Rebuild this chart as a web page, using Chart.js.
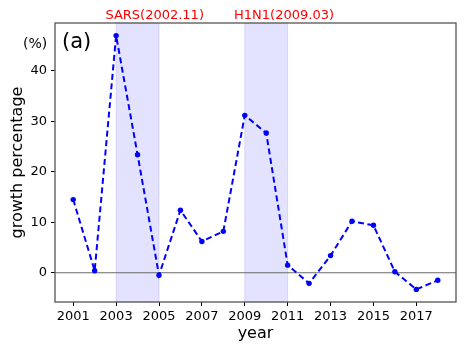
<!DOCTYPE html>
<html>
<head>
<meta charset="utf-8">
<script src="https://cdn.jsdelivr.net/npm/chart.js@4"></script>
<style>
  html, body { margin: 0; padding: 0; background: #fff; }
  #wrap { width: 466px; height: 353px; }
</style>
</head>
<body>
<div id="wrap"><canvas id="growthChart" width="466" height="353"></canvas></div>
<script>
const years = [2001, 2002, 2003, 2004, 2005, 2006, 2007, 2008, 2009, 2010, 2011, 2012, 2013, 2014, 2015, 2016, 2017, 2018];
const growth = [14.5, 0.4, 47.0, 23.4, -0.5, 12.4, 6.2, 8.2, 31.2, 27.7, 1.5, -2.1, 3.4, 10.2, 9.4, 0.2, -3.3, -1.5];
const xTicks = [2001, 2003, 2005, 2007, 2009, 2011, 2013, 2015, 2017];
const yTicks = [0, 10, 20, 30, 40];
const spans = [[2003, 2005], [2009, 2011]];
const spanLabels = ['SARS(2002.11)', 'H1N1(2009.03)'];
const spanLabelX = [2002.5, 2008.5];

const font = 'DejaVu Sans';

// shaded epidemic spans, zero line, frame and text labels
const decorations = {
  id: 'decorations',
  beforeDatasetsDraw(chart) {
    const ctx = chart.ctx;
    const area = chart.chartArea;
    const x = chart.scales.x;
    const y = chart.scales.y;
    ctx.save();
    spans.forEach(s => {
      const x0 = x.getPixelForValue(s[0]);
      const x1 = x.getPixelForValue(s[1]);
      ctx.fillStyle = 'rgba(0,0,255,0.11)';
      ctx.fillRect(x0, area.top, x1 - x0, area.bottom - area.top);
      ctx.strokeStyle = 'rgba(0,0,255,0.12)';
      ctx.lineWidth = 1;
      ctx.strokeRect(x0, area.top, x1 - x0, area.bottom - area.top);
    });
    const y0 = y.getPixelForValue(0);
    ctx.strokeStyle = '#6a6a6a';
    ctx.lineWidth = 1.1;
    ctx.beginPath();
    ctx.moveTo(area.left, y0);
    ctx.lineTo(area.right, y0);
    ctx.stroke();
    ctx.restore();
  },
  afterDraw(chart) {
    const ctx = chart.ctx;
    const area = chart.chartArea;
    const x = chart.scales.x;
    ctx.save();
    ctx.strokeStyle = '#555';
    ctx.lineWidth = 1.3;
    ctx.strokeRect(area.left, area.top, area.right - area.left, area.bottom - area.top);

    ctx.fillStyle = 'red';
    ctx.font = '13px ' + font;
    ctx.textAlign = 'left';
    ctx.textBaseline = 'alphabetic';
    spanLabels.forEach((t, i) => {
      ctx.fillText(t, x.getPixelForValue(spanLabelX[i]), area.top - 4);
    });

    ctx.fillStyle = '#000';
    ctx.textBaseline = 'middle';
    ctx.font = '14px ' + font;
    ctx.fillText('(%)', 23, 44);
    ctx.font = '21px ' + font;
    ctx.fillText('(a)', 62, 43);

    ctx.textAlign = 'center';
    ctx.font = '16px ' + font;
    ctx.fillText('year', (area.left + area.right) / 2, 334);
    ctx.translate(18, (area.top + area.bottom) / 2);
    ctx.rotate(-Math.PI / 2);
    ctx.fillText('growth percentage', 0, 0);
    ctx.restore();
  }
};

new Chart(document.getElementById('growthChart'), {
  type: 'line',
  data: {
    datasets: [{
      data: years.map((yr, i) => ({ x: yr, y: growth[i] })),
      borderColor: '#0000ff',
      backgroundColor: '#0000ff',
      borderWidth: 2,
      borderDash: [6, 3.5],
      pointRadius: 2.7,
      pointHoverRadius: 2.7,
      pointBorderWidth: 0,
      fill: false,
      tension: 0
    }]
  },
  options: {
    responsive: false,
    animation: false,
    events: [],
    layout: { padding: { left: 0, right: 10, top: 23, bottom: 0 } },
    plugins: { legend: { display: false }, tooltip: { enabled: false } },
    scales: {
      x: {
        type: 'linear',
        min: 2000.15,
        max: 2018.85,
        afterBuildTicks: axis => { axis.ticks = xTicks.map(v => ({ value: v })); },
        afterFit: axis => { axis.height = 51; },
        border: { display: false },
        grid: { drawOnChartArea: false, drawTicks: true, tickLength: 4, color: '#000' },
        ticks: { color: '#000', font: { family: font, size: 13 }, padding: 3, maxRotation: 0, autoSkip: false, callback: v => String(v) }
      },
      y: {
        min: -5.8,
        max: 49.5,
        afterBuildTicks: axis => { axis.ticks = yTicks.map(v => ({ value: v })); },
        afterFit: axis => { axis.width = 55; },
        border: { display: false },
        grid: { drawOnChartArea: false, drawTicks: true, tickLength: 4, color: '#000' },
        ticks: { color: '#000', font: { family: font, size: 13 }, padding: 4 }
      }
    }
  },
  plugins: [decorations]
});
</script>
</body>
</html>
